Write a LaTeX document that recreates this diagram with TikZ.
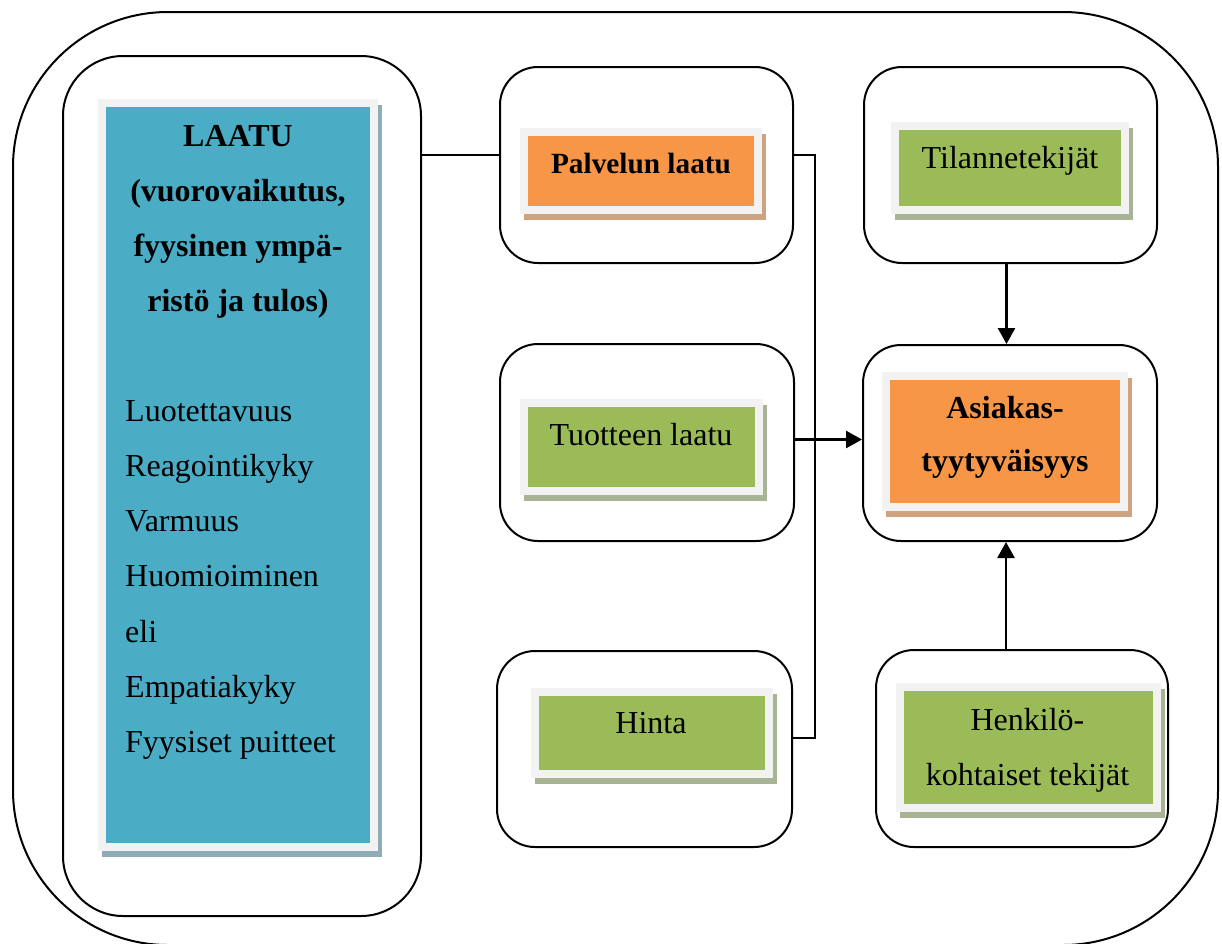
\documentclass[tikz,border=0pt]{standalone}
\usepackage{fontspec}
\setmainfont{Liberation Serif}
\usetikzlibrary{arrows.meta}

\definecolor{tileblue}{HTML}{4BACC6}
\definecolor{blueshade}{HTML}{8FABB4}
\definecolor{tileorange}{HTML}{F79646}
\definecolor{orangeshade}{HTML}{D0A380}
\definecolor{tilegreen}{HTML}{9BBB59}
\definecolor{greenshade}{HTML}{A8B294}
\definecolor{rim}{HTML}{F2F2F2}

\begin{document}
\begin{tikzpicture}[x=1pt, y=-1pt,
  roundframe/.style={rectangle, draw=black, line width=2pt, rounded corners=#1, inner sep=0pt},
  roundframe/.default=38pt,
  tile/.style 2 args={rectangle, inner sep=0pt, fill=#1, draw=rim, line width=8pt,
    preaction={fill=#2, draw=#2, line width=8pt, transform canvas={xshift=4pt, yshift=-6pt}}},
  tiletext/.style={inner sep=0pt, anchor=base, text=black, font=\fontsize{32}{55.3}\selectfont},
  link/.style={draw=black, line width=1.6pt},
  push/.style={draw=black, line width=2.6pt, -{Triangle[length=16pt, width=17pt]}},
]
\useasboundingbox (0,0) rectangle (1222,943);
\clip (0,0) rectangle (1222,943);

% outer frame and the quality column
\node[roundframe=155pt, minimum width=1205pt, minimum height=933pt] (outer) at (615.5,478.5) {};
\node[roundframe=60pt, minimum width=358pt, minimum height=860pt] (left) at (242,486) {};

% rounded frames of the factor boxes
\node[roundframe, minimum width=293pt, minimum height=196pt] (f1) at (646.5,165) {};
\node[roundframe, minimum width=294pt, minimum height=197pt] (f2) at (647,442.5) {};
\node[roundframe, minimum width=295pt, minimum height=196pt] (f3) at (644.5,749) {};
\node[roundframe, minimum width=293pt, minimum height=196pt] (f4) at (1010.5,165) {};
\node[roundframe, minimum width=294pt, minimum height=196pt] (f5) at (1010,443) {};
\node[roundframe, minimum width=292pt, minimum height=197pt] (f6) at (1022,748.5) {};

% coloured tiles
\node[tile={tileblue}{blueshade}, minimum width=272pt, minimum height=744pt] (quality) at (238,475) {};
\node[tile={tileorange}{orangeshade}, minimum width=234pt, minimum height=78pt] (service) at (641,171) {};
\node[tile={tilegreen}{greenshade}, minimum width=235pt, minimum height=88pt] (product) at (641.5,447) {};
\node[tile={tilegreen}{greenshade}, minimum width=234pt, minimum height=82pt] (price) at (652,733) {};
\node[tile={tilegreen}{greenshade}, minimum width=230pt, minimum height=84pt] (situation) at (1010,168) {};
\node[tile={tileorange}{orangeshade}, minimum width=238pt, minimum height=131pt] (satisfaction) at (1005,441.5) {};
\node[tile={tilegreen}{greenshade}, minimum width=257pt, minimum height=121pt] (personal) at (1028.5,747.5) {};

% texts
\node[tiletext, font=\bfseries\fontsize{32}{55.3}\selectfont] (qtitle) at (238,146)
  {\parbox[t]{260pt}{\centering LAATU\\(vuorovaikutus,\\fyysinen ympä-\\ristö ja tulos)}};
\node[tiletext, anchor=base west] (qlist) at (125,421)
  {\parbox[t]{240pt}{\raggedright Luotettavuus\\Reagointikyky\\Varmuus\\Huomioiminen\\eli\\Empatiakyky\\Fyysiset puitteet}};
\node[tiletext, font=\bfseries\fontsize{29.3}{35}\selectfont] (tservice) at (641,173) {Palvelun laatu};
\node[tiletext] (tproduct) at (641,445) {Tuotteen laatu};
\node[tiletext] (tprice) at (651,733) {Hinta};
\node[tiletext] (tsituation) at (1010,168) {Tilannetekijät};
\node[tiletext, font=\bfseries\fontsize{32}{53}\selectfont] (tsatisfaction) at (1005,418)
  {\parbox[t]{230pt}{\centering Asiakas-\\tyytyväisyys}};
\node[tiletext] (tpersonal) at (1027.5,730)
  {\parbox[t]{250pt}{\centering Henkilö-\\kohtaiset tekijät}};

% connectors
\draw[link] ([yshift=10pt]f1.west -| left.east) -- ([yshift=10pt]f1.west);
\draw[link] ([yshift=10pt]f1.east) -- ++(21,0) |- ([yshift=11pt]f3.east);
\draw[push] ([yshift=3pt]f2.east) -- ([yshift=3pt]f2.east -| f5.west);
\draw[push] ([xshift=-4pt]f4.south) -- ([xshift=-4pt]f4.south |- f5.north);
\draw[push] ([xshift=-4pt]f5.south |- f6.north) -- ([xshift=-4pt]f5.south);
\end{tikzpicture}
\end{document}
